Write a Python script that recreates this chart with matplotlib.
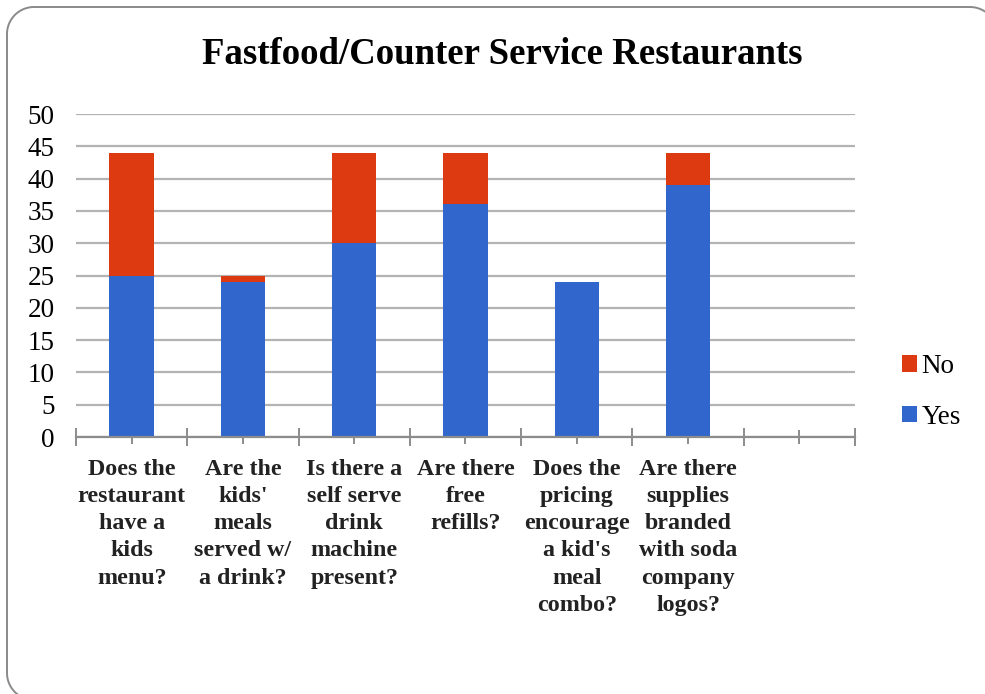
import matplotlib
matplotlib.use('Agg')
import matplotlib.pyplot as plt
from matplotlib.patches import PathPatch
from matplotlib.path import Path
from matplotlib.transforms import IdentityTransform
import numpy as np

# survey answers per question (last slot is left empty on the axis)
questions = [
    "Does the\nrestaurant\nhave a\nkids\nmenu?",
    "Are the\nkids'\nmeals\nserved w/\na drink?",
    "Is there a\nself serve\ndrink\nmachine\npresent?",
    "Are there\nfree\nrefills?",
    "Does the\npricing\nencourage\na kid's\nmeal\ncombo?",
    "Are there\nsupplies\nbranded\nwith soda\ncompany\nlogos?",
    "",
]
yes = [25, 24, 30, 36, 24, 39, 0]
no = [19, 1, 14, 8, 0, 5, 0]

blue = '#3166CC'
red = '#DD3A12'

plt.rcParams['font.family'] = ['Liberation Serif', 'DejaVu Serif']

W, H = 985, 694
fig = plt.figure(figsize=(W / 100, H / 100), dpi=100)
ax = fig.add_axes([76 / W, 1 - 437 / H, (855 - 76) / W, (437 - 114) / H])

x = np.arange(len(questions))
width = 0.4
b_yes = ax.bar(x[:6], yes[:6], width, color=blue, label='Yes', zorder=3)
b_no = ax.bar(x[:6], no[:6], width, bottom=yes[:6], color=red, label='No', zorder=3)

ax.set_xlim(-0.5, len(questions) - 0.5)
ax.set_ylim(0, 50)
ax.set_yticks(range(0, 51, 5))
ax.yaxis.grid(True, color='#b3b3b3', linewidth=1.6, zorder=0)
ax.tick_params(axis='y', length=0, pad=15.5, labelsize=19.5)

# category boundaries and centres both get a tick crossing the axis
ax.set_xticks(np.arange(-0.5, len(questions), 1.0))
ax.set_xticklabels([])
ax.set_xticks(x, minor=True)
ax.set_xticklabels(questions, minor=True, fontsize=17.3, fontweight='bold',
                   linespacing=1.38, va='top', color='#222222')
ax.tick_params(axis='x', which='major', direction='inout', length=13,
               width=1.4, color='#8c8c8c')
ax.tick_params(axis='x', which='minor', direction='inout', length=10,
               width=1.4, color='#8c8c8c', pad=11)

for side in ['left', 'right', 'top']:
    ax.spines[side].set_visible(False)
ax.spines['bottom'].set_color('#8c8c8c')
ax.spines['bottom'].set_linewidth(1.6)
ax.spines['bottom'].set_zorder(4)

fig.text(502 / W, 1 - 54 / H, 'Fastfood/Counter Service Restaurants',
         ha='center', va='center', fontsize=26.5, fontweight='bold')

handles = [b_no, b_yes]
fig.legend(handles, ['No', 'Yes'], loc='center left',
           bbox_to_anchor=(878 / W, 1 - 392 / H), frameon=False,
           fontsize=19.5, handlelength=0.55, handleheight=0.55,
           handletextpad=0.15, labelspacing=0.95)


def rounded_rect(x0, y0, x1, y1, r, n=20):
    # closed outline with quarter-circle corners, pixel coords from bottom-left
    pts = []
    corners = [(x1 - r, y1 - r, 0), (x0 + r, y1 - r, 90),
               (x0 + r, y0 + r, 180), (x1 - r, y0 + r, 270)]
    for cx, cy, start in corners:
        t = np.radians(np.linspace(start, start + 90, n))
        pts.extend(zip(cx + r * np.cos(t), cy + r * np.sin(t)))
    pts.append(pts[0])
    return Path(pts)


# chart border running slightly past the right and bottom edges
border = PathPatch(rounded_rect(7, H - 700, 997, H - 7, 27),
                   transform=IdentityTransform(), fill=False,
                   edgecolor='#8a8a8a', linewidth=1.4)
fig.add_artist(border)

fig.savefig('out.png', dpi=100)
